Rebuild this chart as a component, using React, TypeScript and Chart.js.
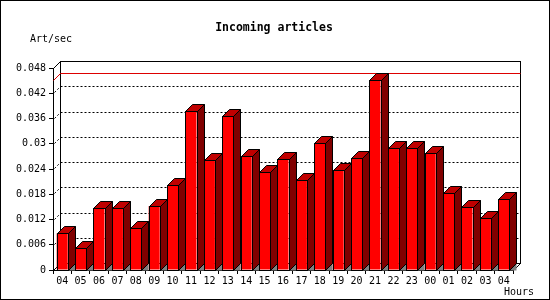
import React, { useEffect, useRef } from 'react';
import { Chart, registerables } from 'chart.js';

Chart.register(...registerables);

const hours = ['04', '05', '06', '07', '08', '09', '10', '11', '12', '13', '14', '15', '16', '17', '18', '19', '20', '21', '22', '23', '00', '01', '02', '03', '04'];
const artPerSec = [0.0087, 0.0052, 0.0147, 0.0147, 0.0099, 0.0152, 0.0201, 0.0378, 0.0261, 0.0365, 0.027, 0.0234, 0.0264, 0.0213, 0.0301, 0.0237, 0.0265, 0.0451, 0.0289, 0.0289, 0.0277, 0.0182, 0.0149, 0.0123, 0.0168];
const yTicks = [0, 0.006, 0.012, 0.018, 0.024, 0.03, 0.036, 0.042, 0.048];
const titleText = 'Incoming articles';
const yUnit = 'Art/sec';
const xUnit = 'Hours';

const D = 7;
const MONO = '"DejaVu Sans Mono", monospace';

const px = (v: number) => Math.round(v) + 0.5;

const frame3d = {
  id: 'frame3d',
  beforeDraw(chart: any) {
    const { ctx, width, height } = chart;
    ctx.save();
    ctx.fillStyle = '#ffffff';
    ctx.fillRect(0, 0, width, height);
    ctx.strokeStyle = '#000000';
    ctx.lineWidth = 1;
    ctx.strokeRect(0.5, 0.5, width - 1, height - 1);
    ctx.restore();
  },
  beforeDatasetsDraw(chart: any) {
    const { ctx, chartArea: a, scales } = chart;
    const y = scales.y;
    const L = px(a.left);
    const R = px(a.right);
    const T = px(y.getPixelForValue(yTicks[yTicks.length - 1]));
    const B = px(y.getPixelForValue(0));
    ctx.save();
    ctx.lineWidth = 1;
    // dotted grid on back wall
    ctx.strokeStyle = '#000000';
    ctx.setLineDash([2, 2]);
    for (const v of yTicks) {
      if (v === 0 || v === yTicks[yTicks.length - 1]) continue;
      const yy = px(y.getPixelForValue(v));
      ctx.beginPath();
      ctx.moveTo(L + D, yy - D);
      ctx.lineTo(R + D, yy - D);
      ctx.stroke();
      ctx.beginPath();
      ctx.moveTo(L + 1, yy - 1);
      ctx.lineTo(L + D, yy - D);
      ctx.stroke();
    }
    ctx.setLineDash([]);
    // back wall
    ctx.strokeRect(L + D, T - D, R - L, B - T);
    ctx.beginPath();
    ctx.moveTo(L, T);
    ctx.lineTo(L + D, T - D);
    ctx.moveTo(R, B);
    ctx.lineTo(R + D, B - D);
    ctx.moveTo(L, B);
    ctx.lineTo(L + D, B - D);
    ctx.stroke();
    // max line
    const mx = Math.max(...artPerSec);
    const ym = px(y.getPixelForValue(mx));
    ctx.strokeStyle = '#dd0000';
    ctx.beginPath();
    ctx.moveTo(L + D, ym - D);
    ctx.lineTo(R + D, ym - D);
    ctx.moveTo(L, ym);
    ctx.lineTo(L + D, ym - D);
    ctx.stroke();
    ctx.restore();
  },
  afterDatasetsDraw(chart: any) {
    const { ctx } = chart;
    const meta = chart.getDatasetMeta(0);
    ctx.save();
    ctx.lineWidth = 1;
    ctx.strokeStyle = '#000000';
    ctx.lineJoin = 'miter';
    for (const el of meta.data) {
      const { x, y, base, width } = el.getProps(['x', 'y', 'base', 'width'], true);
      const l = px(x - width / 2);
      const r = px(x + width / 2);
      const t = px(y);
      const b = px(base);
      // floor shadow
      ctx.fillStyle = '#808080';
      ctx.beginPath();
      ctx.moveTo(r, b);
      ctx.lineTo(r + D, b - D);
      ctx.lineTo(r + D, b);
      ctx.closePath();
      ctx.fill();
      // side face
      ctx.fillStyle = '#800000';
      ctx.beginPath();
      ctx.moveTo(r, t);
      ctx.lineTo(r + D, t - D);
      ctx.lineTo(r + D, b - D);
      ctx.lineTo(r, b);
      ctx.closePath();
      ctx.fill();
      ctx.stroke();
      // top face
      ctx.fillStyle = '#c00000';
      ctx.beginPath();
      ctx.moveTo(l, t);
      ctx.lineTo(l + D, t - D);
      ctx.lineTo(r + D, t - D);
      ctx.lineTo(r, t);
      ctx.closePath();
      ctx.fill();
      ctx.stroke();
      // front outline
      ctx.strokeRect(l, t, r - l, b - t);
    }
    ctx.restore();
  },
  afterDraw(chart: any) {
    const { ctx } = chart;
    ctx.save();
    ctx.fillStyle = '#000000';
    ctx.textBaseline = 'middle';
    ctx.font = `bold 11.5px ${MONO}`;
    ctx.textAlign = 'center';
    ctx.fillText(titleText, 274, 28);
    ctx.font = `10px ${MONO}`;
    ctx.textAlign = 'left';
    ctx.fillText(yUnit, 30, 39);
    ctx.fillText(xUnit, 504, 292);
    ctx.restore();
  },
};

export default function App() {
  const ref = useRef<HTMLCanvasElement | null>(null);
  useEffect(() => {
    document.body.style.margin = '0';
    if (!ref.current) return;
    const chart = new Chart(ref.current, {
      type: 'bar',
      data: {
        labels: hours,
        datasets: [
          {
            data: artPerSec,
            backgroundColor: '#ff0000',
            borderColor: '#000000',
            borderWidth: 0,
            barPercentage: 0.6,
            categoryPercentage: 1,
          },
        ],
      },
      options: {
        animation: false,
        responsive: false,
        devicePixelRatio: 1,
        layout: { padding: { left: 0, top: 68, right: 37, bottom: 0 } },
        plugins: { legend: { display: false }, tooltip: { enabled: false }, title: { display: false } },
        scales: {
          x: {
            grid: { drawOnChartArea: false, tickLength: 4, color: '#000000', offset: true },
            border: { color: '#000000' },
            ticks: { color: '#000000', font: { family: MONO, size: 10 }, padding: 1, maxRotation: 0, autoSkip: false },
            afterFit: (s: any) => { s.height = 30; },
          },
          y: {
            min: 0,
            max: 0.048,
            afterBuildTicks: (s: any) => { s.ticks = yTicks.map((v) => ({ value: v })); },
            ticks: { color: '#000000', font: { family: MONO, size: 10 }, padding: 3, callback: (v: any) => String(v) },
            grid: { drawOnChartArea: false, tickLength: 4, color: '#000000' },
            border: { color: '#000000' },
            afterFit: (s: any) => { s.width = 53; },
          },
        },
      },
      plugins: [frame3d],
    });
    return () => chart.destroy();
  }, []);
  return <canvas ref={ref} width={550} height={300} style={{ display: 'block' }} />;
}
